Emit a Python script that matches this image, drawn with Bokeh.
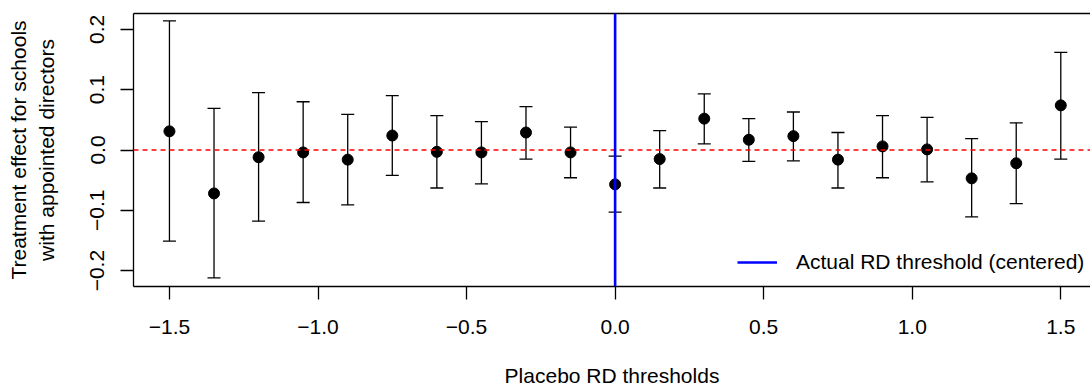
import math
from bokeh.plotting import figure
from bokeh.models import (Range1d, Span, Whisker, TeeHead, ColumnDataSource, Legend,
                          LegendItem, LinearAxis, FixedTicker)
from bokeh.embed import file_html
from bokeh.resources import INLINE

# ---- data ----
thresholds = [-1.5, -1.35, -1.2, -1.05, -0.9, -0.75, -0.6, -0.45, -0.3, -0.15, 0.0,
              0.15, 0.3, 0.45, 0.6, 0.75, 0.9, 1.05, 1.2, 1.35, 1.5]
estimate = [0.031, -0.072, -0.012, -0.004, -0.016, 0.024, -0.003, -0.004, 0.029, -0.004, -0.057,
            -0.015, 0.052, 0.017, 0.023, -0.016, 0.006, 0.001, -0.047, -0.022, 0.074]
ci_upper = [0.214, 0.069, 0.095, 0.080, 0.059, 0.090, 0.057, 0.047, 0.072, 0.038, -0.010,
            0.032, 0.093, 0.052, 0.063, 0.029, 0.057, 0.054, 0.019, 0.045, 0.162]
ci_lower = [-0.151, -0.212, -0.118, -0.087, -0.091, -0.042, -0.063, -0.056, -0.015, -0.046, -0.103,
            -0.063, 0.010, -0.019, -0.018, -0.063, -0.046, -0.053, -0.111, -0.089, -0.015]
actual_threshold = 0.0
null_effect = 0.0

x_ticks = [-1.5, -1.0, -0.5, 0.0, 0.5, 1.0, 1.5]
x_tick_labels = ["\u22121.5", "\u22121.0", "\u22120.5", "0.0", "0.5", "1.0", "1.5"]
y_ticks = [-0.2, -0.1, 0.0, 0.1, 0.2]
y_tick_labels = ["\u22120.2", "\u22120.1", "0.0", "0.1", "0.2"]

x_label = "Placebo RD thresholds"
y_label = "Treatment effect for schools\nwith appointed directors"
legend_label = "Actual RD threshold (centered)"

FONT = "Liberation Sans"
FS = "21px"

src = ColumnDataSource(dict(x=thresholds, y=estimate, lo=ci_lower, hi=ci_upper))

p = figure(width=1090, height=389,
           x_range=Range1d(-1.621, 1.600), y_range=Range1d(-0.2263, 0.2263),
           min_border_left=133, min_border_right=0, min_border_top=13, min_border_bottom=102,
           output_backend="svg", toolbar_location=None)
p.outline_line_color = None
p.xgrid.visible = False
p.ygrid.visible = False
p.background_fill_color = "white"
p.border_fill_color = "white"

# reference line at zero
p.add_layout(Span(location=null_effect, dimension="width", line_color="#FF0000",
                  line_dash="5 4", line_width=1.6))

# error bars
wh = Whisker(source=src, base="x", upper="hi", lower="lo", line_color="black", line_width=1.3,
             upper_head=TeeHead(size=13, line_color="black", line_width=1.3),
             lower_head=TeeHead(size=13, line_color="black", line_width=1.3))
p.add_layout(wh)

p.scatter("x", "y", source=src, size=11, color="black")

# actual threshold
p.add_layout(Span(location=actual_threshold, dimension="height", line_color="#0000FF",
                  line_width=2.6))
r_leg = p.line(x=[math.nan], y=[math.nan], line_color="#0000FF", line_width=2.6)

legend = Legend(items=[LegendItem(label=legend_label, renderers=[r_leg])],
                location=(604, 12), border_line_color=None, background_fill_alpha=0,
                padding=0, margin=0, glyph_width=40, label_standoff=19,
                label_text_font=FONT, label_text_font_size=FS, label_text_color="black")
p.add_layout(legend)

# axes
for ax in (p.xaxis[0], p.yaxis[0]):
    ax.axis_line_color = "black"
    ax.axis_line_width = 1.3
    ax.major_tick_line_color = "black"
    ax.major_tick_line_width = 1.3
    ax.major_tick_out = 13
    ax.major_tick_in = 0
    ax.minor_tick_line_color = None
    ax.major_label_text_font = FONT
    ax.major_label_text_font_size = FS
    ax.major_label_text_color = "black"
    ax.axis_label_text_font = FONT
    ax.axis_label_text_font_size = FS
    ax.axis_label_text_font_style = "normal"
    ax.axis_label_text_color = "black"

p.xaxis[0].ticker = FixedTicker(ticks=x_ticks)
p.xaxis[0].major_label_overrides = dict(zip(x_ticks, x_tick_labels))
p.xaxis[0].major_label_standoff = 20
p.xaxis[0].axis_label = x_label
p.xaxis[0].axis_label_standoff = 27

p.yaxis[0].ticker = FixedTicker(ticks=y_ticks)
p.yaxis[0].major_label_overrides = dict(zip(y_ticks, y_tick_labels))
p.yaxis[0].major_label_orientation = "vertical"
p.yaxis[0].major_label_standoff = 16
p.yaxis[0].axis_label = y_label
p.yaxis[0].axis_label_standoff = 30

top = LinearAxis(ticker=FixedTicker(ticks=[]), axis_line_color="black", axis_line_width=1.3,
                 major_tick_out=0, major_tick_in=0, minor_tick_line_color=None,
                 major_label_standoff=0, major_label_text_font_size="0px")
p.add_layout(top, "above")

open("out.html", "w").write(file_html(p, INLINE))
